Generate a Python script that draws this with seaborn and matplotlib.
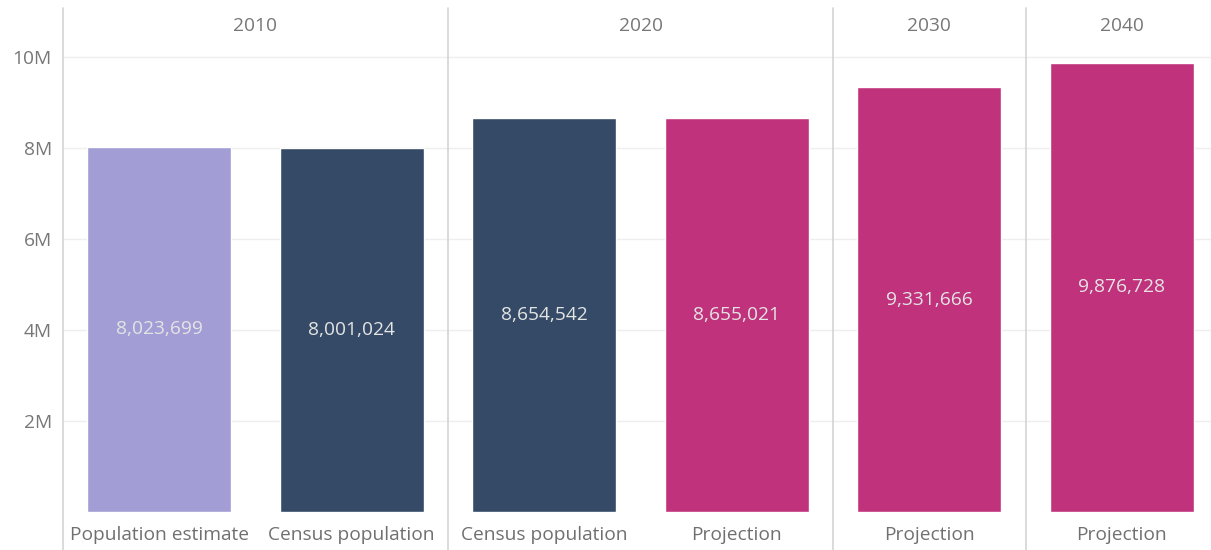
import pandas as pd
import matplotlib.pyplot as plt
import seaborn as sns

# chart data
years = ['2010', '2010', '2020', '2020', '2030', '2040']
kinds = ['Population estimate', 'Census population', 'Census population',
         'Projection', 'Projection', 'Projection']
values = [8023699, 8001024, 8654542, 8655021, 9331666, 9876728]
year_labels = ['2010', '2020', '2030', '2040']
yticks = [2e6, 4e6, 6e6, 8e6, 10e6]
ytick_labels = ['2M', '4M', '6M', '8M', '10M']

colors = {'Population estimate': '#a29dd4',
          'Census population': '#344a66',
          'Projection': '#c0327c'}

df = pd.DataFrame({'year': years, 'kind': kinds, 'value': values})
df['slot'] = [str(i) for i in range(len(df))]

sns.set_style('white')
plt.rcParams['font.family'] = ['Open Sans', 'DejaVu Sans']
FS = 13.8

fig = plt.figure(figsize=(12.11, 5.5), dpi=100)
# axes runs slightly past the right edge, like the original
ax = fig.add_axes([63/1211, 38/550, 1155/1211, 504/550])

sns.barplot(data=df, x='slot', y='value', hue='kind', palette=colors, saturation=1,
            dodge=False, width=0.75, legend=False, ax=ax, order=list(df['slot']))

ax.set_xlim(-0.5, len(df) - 0.5)
ax.set_ylim(0, 504/45.5 * 1e6)
ax.set_yticks(yticks)
ax.set_yticklabels(ytick_labels, color='#777777', fontsize=FS)
ax.set_xticks(range(len(df)))
ax.set_xticklabels(df['kind'], color='#707070', fontsize=FS)
ax.tick_params(axis='both', length=0, pad=8)
ax.tick_params(axis='x', pad=10)
ax.set_xlabel('')
ax.set_ylabel('')
for y in yticks:
    ax.axhline(y, color='#eeeeee', lw=1, zorder=0)
for s in ax.spines.values():
    s.set_visible(False)

# value labels in the middle of each bar
for i, v in enumerate(values):
    ax.text(i, v / 2, f'{v:,}', ha='center', va='center', color='#e4e4e4', fontsize=FS)

# facet separators and year headers
pos = {}
for i, yr in enumerate(years):
    pos.setdefault(yr, []).append(i)
ext = 38 / 504
for yr in year_labels:
    p = pos[yr]
    ax.axvline(min(p) - 0.5, ymin=-ext, ymax=1, color='#d4d4d4', lw=1.2, clip_on=False)
    ax.text(sum(p) / len(p), (504 - 18) / 45.5 * 1e6, yr, ha='center', va='center',
            color='#777777', fontsize=FS)

plt.savefig('out.png', dpi=100)
